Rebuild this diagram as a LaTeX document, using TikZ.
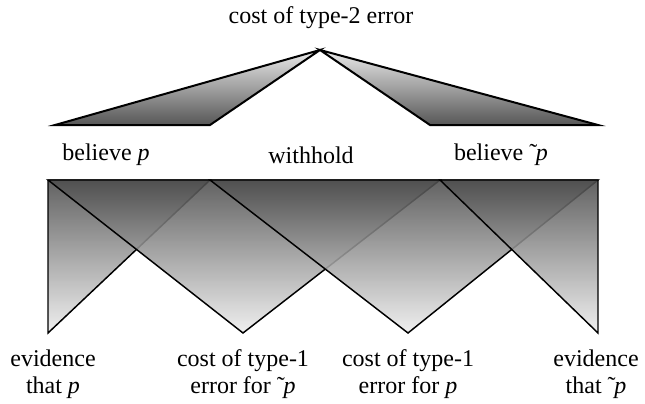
\documentclass[tikz,border=0pt]{standalone}
\usepackage{fontspec}
\setmainfont{Liberation Serif}
\usetikzlibrary{positioning}
\tikzset{lbl/.style={font=\fontsize{18}{20}\selectfont,align=center,inner sep=0pt},upperwedge/.style={draw=black,line width=1.5pt,top color=black!8,bottom color=black!66},lowerwedge/.style={draw=black,line width=1.1pt,fill opacity=0.88,top color=black!70,bottom color=black!7}}
\newcommand{\notp}{\symbol{"02DC}\kern-1pt\textit{p}}
\begin{document}
\begin{tikzpicture}[x=0.75pt,y=-0.75pt]
\useasboundingbox (0,0) rectangle (645,403);
% points of the two wedges on top
\coordinate (apex) at (320,50);
\coordinate (ul1) at (55,125);
\coordinate (ul2) at (210,125);
\coordinate (ur1) at (430,125);
\coordinate (ur2) at (598,125);
% points of the lower band
\coordinate (t1) at (48,180);
\coordinate (t2) at (210,180);
\coordinate (t3) at (440,180);
\coordinate (t4) at (598,180);
\coordinate (b1) at (48,333);
\coordinate (b2) at (243,333);
\coordinate (b3) at (408,333);
\coordinate (b4) at (598,333);
\path[upperwedge] (apex)--(ul1)--(ul2)--cycle;
\path[upperwedge] (apex)--(ur2)--(ur1)--cycle;
\path[lowerwedge] (t1)--(t2)--(b1)--cycle;
\path[lowerwedge] (t1)--(t3)--(b2)--cycle;
\path[lowerwedge] (t2)--(t4)--(b3)--cycle;
\path[lowerwedge] (t3)--(t4)--(b4)--cycle;
% labels
\node[lbl] (cost2) at (321,18) {cost of type-2 error};
\node[lbl] (belp) at (106,155) {believe \textit{p}};
\node[lbl] (withh) at (311,155) {withhold};
\node[lbl] (belnp) at (501,155) {believe \notp};
\node[lbl] (evp) at (53,374) {evidence\\that \textit{p}};
\node[lbl] (costnp) at (243,374) {cost of type-1\\error for \notp};
\node[lbl] (costp) at (408,374) {cost of type-1\\error for \textit{p}};
\node[lbl] (evnp) at (596,374) {evidence\\that \notp};
\end{tikzpicture}
\end{document}
